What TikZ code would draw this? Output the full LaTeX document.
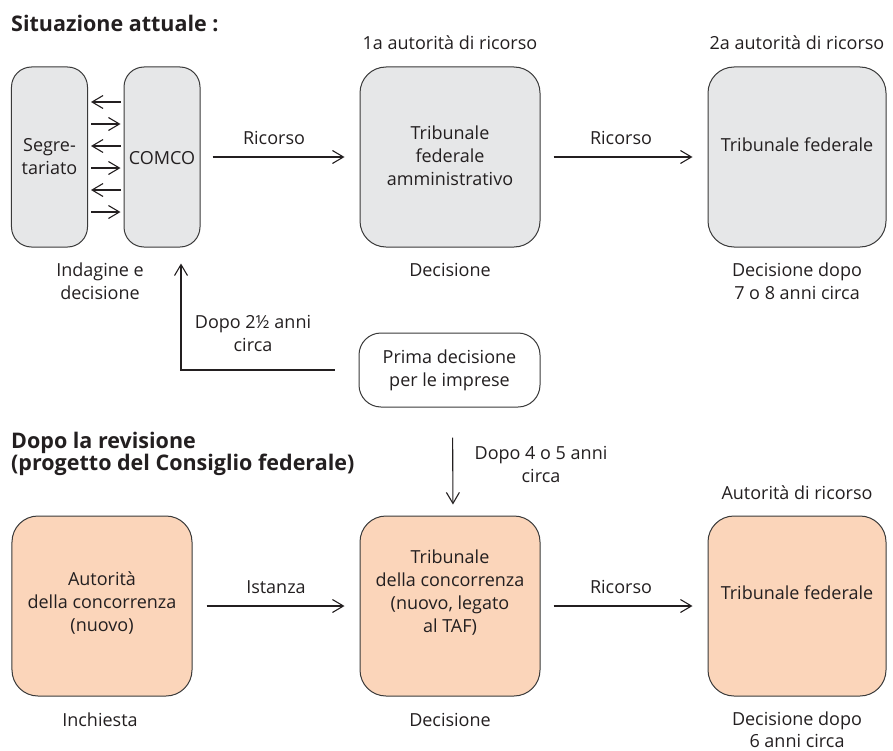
\documentclass[tikz,border=0pt]{standalone}
\usepackage{fontspec}
\setmainfont{Open Sans}
\usetikzlibrary{arrows.meta,calc}
\definecolor{boxgray}{HTML}{E6E7E8}
\definecolor{boxpeach}{HTML}{FBD5BA}
\definecolor{ink}{HTML}{231F20}
\definecolor{edge}{HTML}{3A3A3A}
\begin{document}
\begin{tikzpicture}[x=1bp,y=-1bp,
  txt/.style={text=ink, align=center, inner sep=0pt, font=\fontsize{18bp}{23bp}\selectfont},
  head/.style={text=ink, align=left, anchor=west, inner sep=0pt, font=\fontsize{21.5bp}{22.5bp}\selectfont\bfseries},
  bigbox/.style={draw=edge, line width=1bp, rounded corners=26bp, minimum width=180bp, minimum height=180bp, inner sep=0pt},
  tallbox/.style={draw=edge, line width=1bp, rounded corners=20bp, minimum width=76bp, minimum height=180bp, inner sep=0pt, fill=boxgray},
  smallbox/.style={draw=edge, line width=1bp, rounded corners=22bp, minimum width=181bp, minimum height=74bp, inner sep=0pt, fill=white},
  arr/.style={draw=ink, line width=1.1bp, -{Straight Barb[length=11bp,width=13bp,line width=1.1bp]}}
]
\useasboundingbox (0,0) rectangle (893,751);
% ---- top row boxes
\node[tallbox] (seg) at (49.5,157) {};
\node[tallbox] (comco) at (162,157) {};
\node[bigbox, fill=boxgray] (taf) at (450,157) {};
\node[bigbox, fill=boxgray, minimum width=178bp] (tf1) at (797,157) {};
\node[smallbox] (prima) at (449.5,370) {};
% ---- bottom row boxes
\node[bigbox, fill=boxpeach] (aut) at (102,606) {};
\node[bigbox, fill=boxpeach] (tc) at (450,606) {};
\node[bigbox, fill=boxpeach, minimum width=178bp] (tf2) at (797,606) {};

% ---- texts inside boxes
\node[txt] (tseg) at (49.5,157) {Segre-\\tariato};
\node[txt] (tcomco) at (162,158) {COMCO};
\node[txt] (ttaf) at (450,156) {Tribunale\\federale\\amministrativo};
\node[txt] (ttf1) at (797,145) {Tribunale federale};
\node[txt] (tprima) at (449.5,370) {Prima decisione\\per le imprese};
\node[txt] (taut) at (102,603) {Autorità\\della concorrenza\\(nuovo)};
\node[txt] (ttc) at (450,592.5) {Tribunale\\della concorrenza\\(nuovo, legato\\al TAF)};
\node[txt] (ttf2) at (797,593) {Tribunale federale};

% ---- headings and labels
\node[head] (h1) at (11,23) {Situazione attuale :};
\node[head] (h2) at (11,454) {Dopo la revisione\\(progetto del Consiglio federale)};
\node[txt] (l1) at (450,43) {1a autorità di ricorso};
\node[txt] (l2) at (797,43) {2a autorità di ricorso};
\node[txt] (l3) at (797,493) {Autorità di ricorso};
\node[txt] (b1) at (100,281) {Indagine e\\decisione};
\node[txt] (b2) at (450,270) {Decisione};
\node[txt] (b3) at (797,281) {Decisione dopo\\7 o 8 anni circa};
\node[txt] (b4) at (100,720) {Inchiesta};
\node[txt] (b5) at (450,720) {Decisione};
\node[txt, font=\fontsize{18bp}{22bp}\selectfont] (b6) at (797,730) {Decisione dopo\\6 anni circa};

% ---- arrows between Segretariato and COMCO
\foreach \yy in {102,146,190} {
  \draw[arr, shorten <=3bp, shorten >=3bp] (comco.west |- 0,\yy) -- (seg.east |- 0,\yy);
}
\foreach \yy in {124,168,212} {
  \draw[arr, shorten <=3bp, shorten >=3bp] (seg.east |- 0,\yy) -- (comco.west |- 0,\yy);
}

% ---- main arrows
\draw[arr, shorten <=12bp, shorten >=15bp] (comco.east) -- node[txt, above=12bp, xshift=-6bp] (r1) {Ricorso} (taf.west);
\draw[arr, shorten <=13bp, shorten >=15bp] (taf.east) -- node[txt, above=12bp, xshift=-3bp] (r2) {Ricorso} (tf1.west);
\draw[arr, shorten <=14bp, shorten >=15bp] (aut.east) -- node[txt, above=12bp] (r3) {Istanza} (tc.west);
\draw[arr, shorten <=13bp, shorten >=15bp] (tc.east) -- node[txt, above=12bp, xshift=-3bp] (r4) {Ricorso} (tf2.west);

% ---- return arrow to COMCO
\draw[arr, shorten <=24bp, shorten >=16bp] (prima.west) -| ([xshift=19bp]comco.south);
\node[txt] (d1) at (253,333.5) {Dopo 2½ anni\\circa};

% ---- down arrow to new tribunal
\draw[arr, shorten <=30bp, shorten >=11bp] ([xshift=3bp]prima.south) -- ([xshift=3bp]tc.north);
\node[txt] (d2) at (541,464) {Dopo 4 o 5 anni\\circa};
\end{tikzpicture}
\end{document}
